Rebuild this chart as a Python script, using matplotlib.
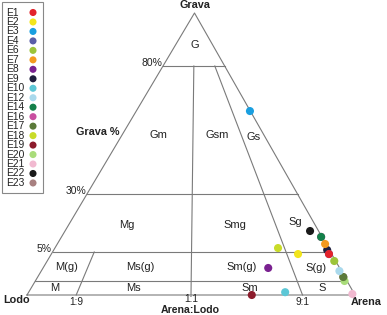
import numpy as np
import matplotlib
matplotlib.use("Agg")
import matplotlib.pyplot as plt
from matplotlib.patches import Rectangle

plt.rcParams['font.family'] = ['Liberation Sans', 'DejaVu Sans']

# ---------------- data ----------------
samples = ['E1', 'E2', 'E3', 'E4', 'E6', 'E7', 'E8', 'E9', 'E10', 'E12',
           'E14', 'E16', 'E17', 'E18', 'E19', 'E20', 'E21', 'E22', 'E23']
gravel_pct = [4.65, 4.65, 62.4, 4.65, 3.45, 8.45, 2.25, 5.86, 0.002, 1.73,
              11.5, 11.5, 0.69, 6.7, 0.0, 0.01, 0.0007, 14.05, 0.69]
sand_ratio = [0.994, 0.925, 0.998, 0.994, 0.997, 0.998, 0.805, 0.995, 0.841, 0.996,
              0.998, 0.998, 0.997, 0.872, 0.718, 0.995, 0.996, 0.979, 0.997]
colors = ['#e3222b', '#f2e51c', '#1a9fe0', '#5a5ea8', '#9cc43a', '#f39a1f',
          '#7a2190', '#1f1f3d', '#5cc7d6', '#a9d9ec', '#13804a', '#c94fa0',
          '#5b7a3a', '#c9dc2a', '#8c1c2c', '#a9dc7a', '#f1b9d0', '#1a1a1a', '#a88080']

gravel_lines = [0.01, 5, 30, 80]
pct_labels = ['5%', '30%', '80%']
ratio_lines = [0.1, 0.5, 0.9]
ratio_top = [5, 80, 80]
ratio_labels = ['1:9', '1:1', '9:1']

# ---------------- diagram geometry (pixel-like frame) ----------------
G_BREAKS = [0, 0.01, 5, 30, 80, 100]
Y_BREAKS = [295, 281, 252, 194, 66, 13]
R_BREAKS = [0, 0.1, 0.5, 0.9, 1.0]
U_BREAKS = [0, 0.15, 0.5, 0.84, 1.0]
LEFT_X, RIGHT_X, BASE_Y = 27.0, 355.0, 295.0
APEX_X, APEX_Y = 194.5, 13.0


def to_xy(g, r):
    y = np.interp(g, G_BREAKS, Y_BREAKS)
    t = (BASE_Y - y) / (BASE_Y - APEX_Y)
    L = LEFT_X + (APEX_X - LEFT_X) * t
    R = RIGHT_X + (APEX_X - RIGHT_X) * t
    u = np.interp(r, R_BREAKS, U_BREAKS)
    return L + u * (R - L), y


fig = plt.figure(figsize=(3.87, 3.15), dpi=100)
ax = fig.add_axes([0, 0, 1, 1])
ax.set_xlim(0, 387)
ax.set_ylim(315, 0)
ax.axis('off')

lc = '#7a7a7a'
lw = 0.8
# triangle outline
tx = [LEFT_X, APEX_X, RIGHT_X, LEFT_X]
ty = [BASE_Y, APEX_Y, BASE_Y, BASE_Y]
ax.plot(tx, ty, color=lc, lw=lw, zorder=1)

for g in gravel_lines:
    x0, y0 = to_xy(g, 0.0)
    x1, y1 = to_xy(g, 1.0)
    ax.plot([x0, x1], [y0, y1], color=lc, lw=lw, zorder=1)

for r, gt in zip(ratio_lines, ratio_top):
    x0, y0 = to_xy(0.0, r)
    x1, y1 = to_xy(gt, r)
    ax.plot([x0, x1], [y0, y1], color=lc, lw=lw, zorder=1)

# ---------------- labels ----------------
fs = 8
tc = '#222222'
regions = [('G', 195, 45), ('Gm', 158, 135), ('Gsm', 217, 135), ('Gs', 254, 137),
           ('Mg', 127, 225), ('Smg', 235, 225), ('Sg', 295, 222),
           ('M(g)', 67, 267), ('Ms(g)', 140, 267), ('Sm(g)', 242, 267), ('S(g)', 316, 268),
           ('M', 55, 288), ('Ms', 133, 288), ('Sm', 250, 288), ('S', 322, 288)]
for s, x, y in regions:
    ax.text(x, y, s, fontsize=fs, color=tc, ha='center', va='center')

for s, g in zip(pct_labels, [5, 30, 80]):
    x, y = to_xy(g, 0.0)
    ax.text(x - 1, y - 3, s, fontsize=7.5, color=tc, ha='right', va='center')

for s, r in zip(ratio_labels, ratio_lines):
    x, y = to_xy(0.0, r)
    dy = 4.5 if r == 0.5 else 7
    ax.text(x, y + dy, s, fontsize=7.3, color=tc, ha='center', va='center')

ax.text(195, 5, 'Grava', fontsize=7.8, fontweight='bold', color=tc, ha='center', va='center')
ax.text(98, 132, 'Grava %', fontsize=7.8, fontweight='bold', color=tc, ha='center', va='center')
ax.text(17, 300, 'Lodo', fontsize=7.8, fontweight='bold', color=tc, ha='center', va='center')
ax.text(366, 302, 'Arena', fontsize=7.8, fontweight='bold', color=tc, ha='center', va='center')
ax.text(190, 310, 'Arena:Lodo', fontsize=7.6, fontweight='bold', color=tc, ha='center', va='center')

# ---------------- samples ----------------
px, py = to_xy(np.array(gravel_pct), np.array(sand_ratio))
order = np.arange(len(samples))[::-1]
ax.scatter(px[order], py[order], s=34, c=[colors[i] for i in order],
           edgecolors='none', zorder=3, clip_on=False)

# ---------------- legend (manual box) ----------------
ax.add_patch(Rectangle((2, 2), 41, 191, facecolor='white', edgecolor='#888888', lw=0.8, zorder=4))
for i, (s, c) in enumerate(zip(samples, colors)):
    yy = 12.5 + 9.47 * i
    ax.text(6.5, yy, s, fontsize=7.4, color=tc, ha='left', va='center', zorder=5)
ly = 12.5 + 9.47 * np.arange(len(samples))
ax.scatter(np.full(len(samples), 33.0), ly, s=26, c=colors, edgecolors='none', zorder=5)

fig.savefig('out.png', dpi=100)
